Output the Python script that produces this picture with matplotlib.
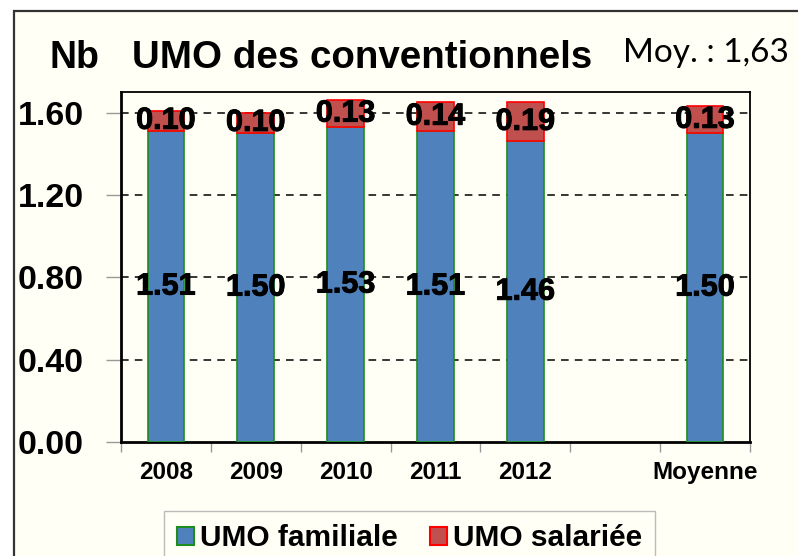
import numpy as np
import matplotlib
matplotlib.use('Agg')
import matplotlib.pyplot as plt
import matplotlib.patheffects as pe
from matplotlib.patches import Rectangle, Patch

# data
categories = ['2008', '2009', '2010', '2011', '2012', '', 'Moyenne']
familiale = [1.51, 1.50, 1.53, 1.51, 1.46, np.nan, 1.50]
salariee = [0.10, 0.10, 0.13, 0.14, 0.19, np.nan, 0.13]
yticks = [0.0, 0.4, 0.8, 1.2, 1.6]

cream = '#FFFFF5'
blue = '#4F81BD'
red = '#C0504D'

plt.rcParams['font.family'] = ['Liberation Sans', 'DejaVu Sans']

fig = plt.figure(figsize=(7.98, 5.56), dpi=100)
fig.patch.set_facecolor('white')
# outer frame (cut at right and bottom)
fig.patches.append(Rectangle((14 / 798, -0.1), 1.2, 0.1 + (556 - 11) / 556,
                             transform=fig.transFigure, facecolor=cream,
                             edgecolor='#333333', lw=1.6, zorder=-10))

ax = fig.add_axes([121 / 798, (556 - 442) / 556, (750 - 121) / 798, (442 - 92) / 556])
ax.set_facecolor(cream)

x = np.arange(len(categories))
fam = np.array(familiale)
sal = np.array(salariee)
ax.bar(x, fam, width=0.41, color=blue, edgecolor='#1E8C1E', lw=1.2, zorder=3)
ax.bar(x, sal, bottom=fam, width=0.41, color=red, edgecolor='#FF0000', lw=1.2, zorder=3)

# slightly heavier strokes, like the original's bold rendering
heavy = [pe.withStroke(linewidth=0.7, foreground='black')]
for xi, f, s in zip(x, fam, sal):
    if np.isnan(f):
        continue
    ax.text(xi, f / 2, f'{f:.2f}', ha='center', va='center', fontsize=22,
            fontweight='bold', zorder=5, path_effects=heavy)
    ax.text(xi, f + s / 2, f'{s:.2f}', ha='center', va='center', fontsize=22,
            fontweight='bold', zorder=5, path_effects=heavy)

ax.set_xlim(-0.5, len(categories) - 0.5)
ax.set_ylim(0, 1.70)
ax.set_yticks(yticks)
ax.set_yticklabels([f'{v:.2f}' for v in yticks], fontsize=24.5, fontweight='bold')
for v in yticks[1:]:
    ax.axhline(v, color='black', lw=1.1, ls=(0, (5, 4)), zorder=1)

ax.set_xticks(x)
ax.set_xticklabels(categories, fontsize=17.5, fontweight='bold')
ax.set_xticks(np.arange(len(categories) + 1) - 0.5, minor=True)
ax.tick_params(axis='x', which='major', length=0, pad=14)
ax.tick_params(axis='x', which='minor', length=7, color='#999999', width=1)
ax.tick_params(axis='y', length=11, color='#999999', width=1, pad=16)

for sp in ['left', 'bottom']:
    ax.spines[sp].set_linewidth(2)
for sp in ['top', 'right']:
    ax.spines[sp].set_linewidth(1.3)

fig.text(49 / 798, (556 - 68) / 556, 'Nb', fontsize=27, fontweight='bold', va='baseline')
fig.text(132 / 798, (556 - 68) / 556, 'UMO des conventionnels', fontsize=27.7,
         fontweight='bold', va='baseline')
fig.text(623 / 798, (556 - 62) / 556, 'Moy. : 1,63', fontsize=24, va='baseline',
         family=['Lato', 'DejaVu Sans'])

handles = [Patch(facecolor=blue, edgecolor='#1E8C1E', lw=1.5, label='UMO familiale'),
           Patch(facecolor=red, edgecolor='#FF0000', lw=1.5, label='UMO salariée')]
leg = fig.legend(handles=handles, loc='upper left', bbox_to_anchor=(164 / 798, (556 - 511) / 556),
                 ncol=2, prop={'size': 21.5, 'weight': 'bold'}, handlelength=0.55,
                 handleheight=0.55, handletextpad=0.2, columnspacing=1.1,
                 fancybox=False, borderpad=0.45, borderaxespad=0)
leg.get_frame().set_edgecolor('#AAAAAA')
leg.get_frame().set_facecolor(cream)
leg.get_frame().set_linewidth(1)

fig.savefig('out.png', dpi=100, facecolor=fig.get_facecolor())
